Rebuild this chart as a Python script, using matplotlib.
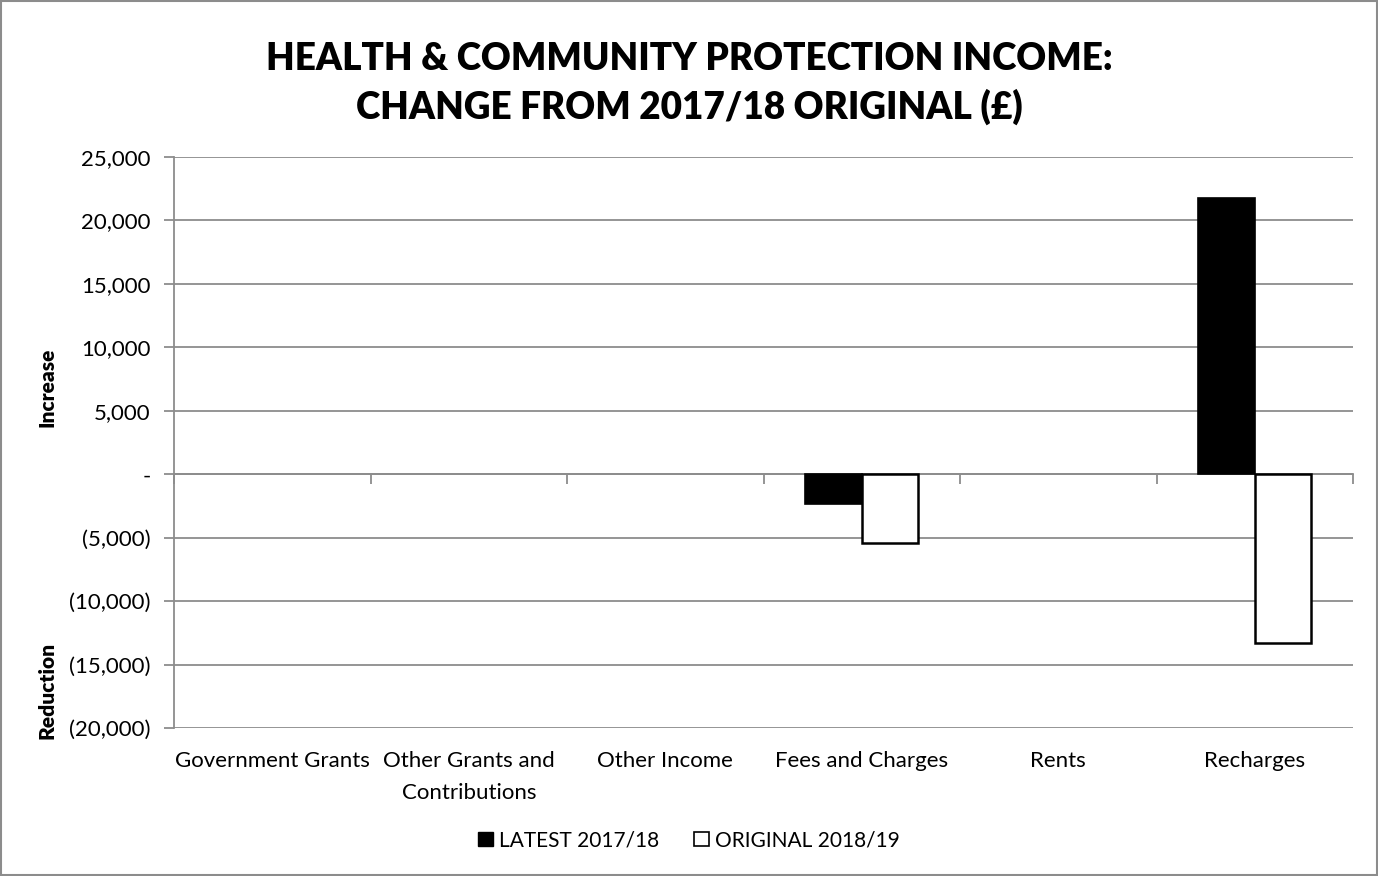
import matplotlib

matplotlib.use("Agg")
import matplotlib.pyplot as plt
import matplotlib.transforms as mtransforms
from matplotlib.patches import Patch, Rectangle
from matplotlib.ticker import FuncFormatter, FixedLocator
import numpy as np

categories = ["Government Grants", "Other Grants and\nContributions", "Other Income",
              "Fees and Charges", "Rents", "Recharges"]
latest_2017_18 = [0, 0, 0, -2310, 0, 21800]
original_2018_19 = [0, 0, 0, -5410, 0, -13290]
series_names = ["LATEST 2017/18", "ORIGINAL 2018/19"]
y_ticks = [-20000, -15000, -10000, -5000, 0, 5000, 10000, 15000, 20000, 25000]

plt.rcParams["font.family"] = ["Lato", "DejaVu Sans"]
GRID = "#8c8c8c"

fig = plt.figure(figsize=(13.78, 8.76), dpi=100)
ax = fig.add_axes([0.1263, 0.1689, 0.8556, 0.6519])

x = np.arange(len(categories))
w = 0.2875
b1 = ax.bar(x - w / 2, latest_2017_18, width=w, color="black", edgecolor="black", linewidth=1.2, zorder=3)
b2 = ax.bar(x + w / 2, original_2018_19, width=w, color="white", edgecolor="black", linewidth=1.8, zorder=3)
# empty categories: no visible outline
for bar in list(b1) + list(b2):
    if bar.get_height() == 0:
        bar.set_visible(False)

ax.set_xlim(-0.5, len(categories) - 0.5)
ax.set_ylim(y_ticks[0], y_ticks[-1])
ax.yaxis.set_major_locator(FixedLocator(y_ticks))


def fmt(v, _pos):
    if v == 0:
        return "-"
    if v < 0:
        return f"({abs(v):,.0f})"
    return f"{v:,.0f}"


ax.yaxis.set_major_formatter(FuncFormatter(fmt))
ax.grid(axis="y", color=GRID, linewidth=1.3, zorder=0)
ax.tick_params(axis="y", length=7, width=1.3, color=GRID, labelsize=16, pad=10)

# x axis sits on zero, ticks between categories
for side in ("top", "right"):
    ax.spines[side].set_visible(False)
ax.spines["left"].set_color(GRID)
ax.spines["left"].set_linewidth(1.3)
ax.spines["bottom"].set_position(("data", 0))
ax.spines["bottom"].set_color(GRID)
ax.spines["bottom"].set_linewidth(1.3)
ax.spines["bottom"].set_zorder(2)
ax.set_xticks(np.arange(len(categories) + 1) - 0.5)
ax.set_xticklabels([])
ax.tick_params(axis="x", length=7, width=1.3, color=GRID, direction="out")

trans = mtransforms.blended_transform_factory(ax.transData, ax.transAxes)
for xi, label in zip(x, categories):
    ax.text(xi, -0.041, label, transform=trans, ha="center", va="top", fontsize=16,
            linespacing=1.75)

fig.text(0.5, 0.905, "HEALTH & COMMUNITY PROTECTION INCOME:\nCHANGE FROM 2017/18 ORIGINAL (£)",
         ha="center", va="center", fontsize=26.6, fontweight="heavy", linespacing=1.42)

fig.text(0.034, 0.558, "Increase", rotation=90, ha="center", va="center", fontsize=15, fontweight="heavy")
fig.text(0.034, 0.212, "Reduction", rotation=90, ha="center", va="center", fontsize=15, fontweight="heavy")

handles = [Patch(facecolor="black", edgecolor="black", label=series_names[0]),
           Patch(facecolor="white", edgecolor="black", linewidth=1.2, label=series_names[1])]
fig.legend(handles=handles, loc="center", bbox_to_anchor=(0.5, 0.041), ncol=2, frameon=False,
           fontsize=15, handlelength=0.7, handleheight=0.7, handletextpad=0.3, columnspacing=1.7)

fig.patches.append(Rectangle((0.0005, 0.0008), 0.999, 0.998, transform=fig.transFigure,
                             fill=False, edgecolor="#8c8c8c", linewidth=1.5))

fig.savefig("out.png", dpi=100)
